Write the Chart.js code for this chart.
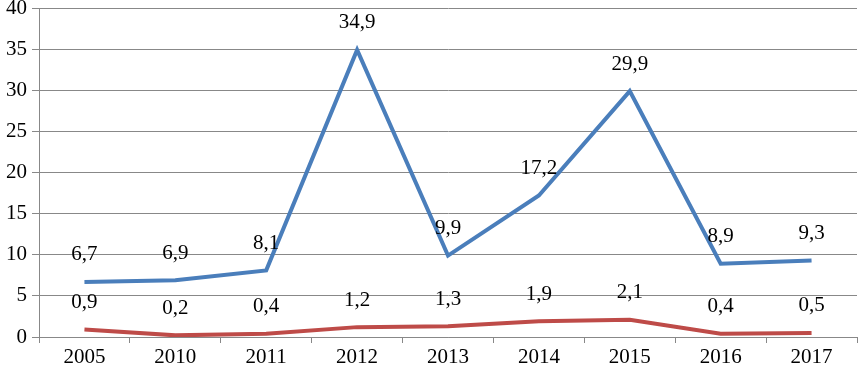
<!DOCTYPE html>
<html>
<head>
<meta charset="utf-8">
<script src="https://cdn.jsdelivr.net/npm/chart.js@4"></script>
<style>
html,body{margin:0;padding:0;background:#fff;}
#wrap{width:858px;height:370px;position:relative;}
</style>
</head>
<body>
<div id="wrap"><canvas id="c" width="858" height="370"></canvas></div>
<script>
const categories = ['2005','2010','2011','2012','2013','2014','2015','2016','2017'];
const seriesBlue = [6.7, 6.9, 8.1, 34.9, 9.9, 17.2, 29.9, 8.9, 9.3];
const seriesRed = [0.9, 0.2, 0.4, 1.2, 1.3, 1.9, 2.1, 0.4, 0.5];
const yTicks = [0, 5, 10, 15, 20, 25, 30, 35, 40];

const FONT = 'Liberation Serif, "Times New Roman", serif';

const labelPlugin = {
  id: 'valueLabels',
  afterDatasetsDraw(chart) {
    const ctx = chart.ctx;
    ctx.save();
    ctx.font = '21px ' + FONT;
    ctx.fillStyle = '#000';
    ctx.textAlign = 'center';
    ctx.textBaseline = 'middle';
    chart.data.datasets.forEach((ds, i) => {
      const meta = chart.getDatasetMeta(i);
      meta.data.forEach((pt, j) => {
        const txt = String(ds.data[j]).replace('.', ',');
        ctx.fillText(txt, pt.x, pt.y - 27);
      });
    });
    ctx.restore();
  }
};

new Chart(document.getElementById('c'), {
  type: 'line',
  data: {
    labels: categories,
    datasets: [
      { data: seriesBlue, borderColor: '#4A7EBB', borderWidth: 4, pointRadius: 0, tension: 0, fill: false },
      { data: seriesRed, borderColor: '#BE4B48', borderWidth: 4, pointRadius: 0, tension: 0, fill: false }
    ]
  },
  options: {
    responsive: false,
    animation: false,
    events: [],
    layout: { padding: { top: 8, right: 1, left: 0, bottom: 0 } },
    plugins: { legend: { display: false }, tooltip: { enabled: false } },
    scales: {
      x: {
        offset: true,
        grid: { display: true, drawOnChartArea: false, drawTicks: true, tickLength: 6, color: '#888', offset: true },
        border: { display: true, color: '#888', width: 1 },
        ticks: { color: '#000', font: { family: FONT, size: 21 }, padding: 2, maxRotation: 0 },
        afterFit(s) { s.height = 33; s.paddingLeft = 0; s.paddingRight = 0; }
      },
      y: {
        min: 0, max: 40,
        afterBuildTicks(s) { s.ticks = yTicks.map(v => ({ value: v })); },
        grid: { color: '#888', lineWidth: 1, drawTicks: true, tickLength: 7 },
        border: { display: true, color: '#888', width: 1 },
        ticks: { color: '#000', font: { family: FONT, size: 21 }, padding: 5 },
        afterFit(s) { s.width = 39; s.paddingTop = 0; s.paddingBottom = 0; }
      }
    }
  },
  plugins: [labelPlugin]
});
</script>
</body>
</html>
